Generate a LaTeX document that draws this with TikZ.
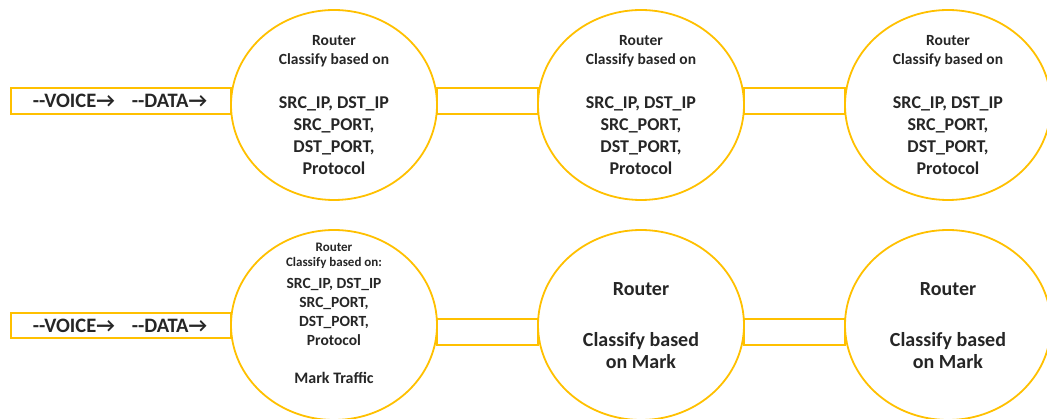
\documentclass[tikz,border=0pt]{standalone}
\usepackage{fontspec}
\setmainfont{Carlito}
\usetikzlibrary{shapes.geometric,calc}
\definecolor{gold}{RGB}{255,192,0}
\tikzset{
  router/.style={draw=gold, line width=1.8pt, ellipse, minimum width=206pt, minimum height=190pt, inner sep=0pt, outer sep=0pt},
  pipe/.style={draw=gold, line width=1.8pt},
  txt/.style={align=center, inner sep=0pt, font=\bfseries, text=black!85}
}
\begin{document}
\begin{tikzpicture}[x=1pt, y=-1pt]
\useasboundingbox (0,0) rectangle (1047,419);
% top row
\node[router] (t1) at (334,105) {};
\node[router] (t2) at (641,105) {};
\node[router] (t3) at (948,105) {};
% bottom row
\node[router] (b1) at (334,325) {};
\node[router] (b2) at (641,325) {};
\node[router] (b3) at (948,325) {};
% inputs
\coordinate (tin) at (11,88);
\coordinate (bin) at (11,313);
\draw[pipe] (tin) rectangle ($(t1.west)+(0,9)$);
\draw[pipe] (bin) rectangle ($(b1.west)+(0,13)$);
\node[txt, font=\bfseries\fontsize{20.5}{22}\selectfont] (tv) at (120,101) {-{}-VOICE→\hspace{17pt}-{}-DATA→};
\node[txt, font=\bfseries\fontsize{20.5}{22}\selectfont] (bv) at (120,326) {-{}-VOICE→\hspace{17pt}-{}-DATA→};
% connectors
\draw[pipe] ($(t1.east)+(0,-17)$) rectangle ($(t2.west)+(0,9)$);
\draw[pipe] ($(t2.east)+(0,-17)$) rectangle ($(t3.west)+(0,9)$);
\draw[pipe] ($(b1.east)+(0,-6)$) rectangle ($(b2.west)+(0,20)$);
\draw[pipe] ($(b2.east)+(0,-6)$) rectangle ($(b3.west)+(0,20)$);
% top texts
\foreach \c in {t1,t2,t3}{
  \node[txt, font=\bfseries\fontsize{15.5}{19}\selectfont] at ($(\c)+(0,-53.5)$) {Router\\Classify based on};
  \node[txt, font=\bfseries\fontsize{18}{22}\selectfont] at ($(\c)+(0,31)$) {SRC\_IP, DST\_IP\\SRC\_PORT,\\DST\_PORT,\\Protocol};
}
% bottom first
\node[txt, font=\bfseries\fontsize{13}{15}\selectfont] (b1h) at ($(b1)+(0,-69.5)$) {Router\\Classify based on:};
\node[txt, font=\bfseries\fontsize{15.5}{19}\selectfont] (b1b) at ($(b1)+(0,-13)$) {SRC\_IP, DST\_IP\\SRC\_PORT,\\DST\_PORT,\\Protocol};
\node[txt, font=\bfseries\fontsize{16}{19}\selectfont] (b1m) at ($(b1)+(0,53)$) {Mark Traffic};
% bottom others
\foreach \c in {b2,b3}{
  \node[txt, font=\bfseries\fontsize{20}{22}\selectfont] at ($(\c)+(0,-36)$) {Router};
  \node[txt, font=\bfseries\fontsize{20}{22}\selectfont] at ($(\c)+(0,26)$) {Classify based\\on Mark};
}
\end{tikzpicture}
\end{document}
